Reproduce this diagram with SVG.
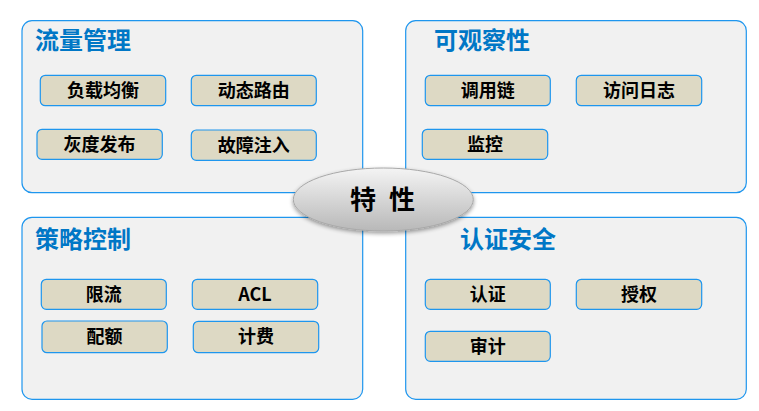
<svg xmlns="http://www.w3.org/2000/svg" width="759" height="411" viewBox="0 0 759 411">
<defs>
<style>
.panel{fill:#F1F1F1;stroke:#1E96EE;stroke-width:1.2}
.box{fill:#DDD9C4;stroke:#1E96EE;stroke-width:1.2}
.title{font-family:"Noto Sans CJK SC","Noto Sans",sans-serif;font-weight:bold;font-size:24px;fill:#0077C6}
.lbl{font-family:"Noto Sans CJK SC","Liberation Sans",sans-serif;font-weight:bold;font-size:18px;fill:#000;text-anchor:middle}
.core{font-family:"Noto Sans CJK SC",sans-serif;font-weight:bold;font-size:26px;fill:#000;text-anchor:middle}
</style>
<linearGradient id="eg" x1="0" y1="0" x2="0" y2="1">
<stop offset="0" stop-color="#F4F4F4"/>
<stop offset="0.5" stop-color="#D6D6D6"/>
<stop offset="1" stop-color="#B8B8B8"/>
</linearGradient>
<filter id="sh" x="-20%" y="-30%" width="140%" height="170%">
<feGaussianBlur in="SourceAlpha" stdDeviation="2"/>
<feOffset dx="0" dy="2" result="b"/>
<feComponentTransfer><feFuncA type="linear" slope="0.4"/></feComponentTransfer>
<feMerge><feMergeNode/><feMergeNode in="SourceGraphic"/></feMerge>
</filter>
</defs>
<rect width="759" height="411" fill="#FFFFFF"/>
<g id="panel-traffic">
<rect class="panel" x="22" y="20.7" width="340.7" height="172" rx="10"/>
<text class="title" x="35" y="48.5">流量管理</text>
<g id="n-lb"><rect class="box" x="40.3" y="75.3" width="125.4" height="30.4" rx="5"/><text class="lbl" x="103" y="96.8">负载均衡</text></g>
<g id="n-route"><rect class="box" x="191.3" y="75.3" width="125" height="30.4" rx="5"/><text class="lbl" x="253.8" y="96.8">动态路由</text></g>
<g id="n-gray"><rect class="box" x="37" y="129.3" width="125.3" height="30" rx="5"/><text class="lbl" x="99.6" y="150.8">灰度发布</text></g>
<g id="n-fault"><rect class="box" x="191.3" y="130" width="125" height="30.3" rx="5"/><text class="lbl" x="253.8" y="151.5">故障注入</text></g>
</g>
<g id="panel-observe">
<rect class="panel" x="405.7" y="20.7" width="340.6" height="172" rx="10"/>
<text class="title" x="434" y="48.5">可观察性</text>
<g id="n-trace"><rect class="box" x="425.3" y="75.3" width="125" height="30.4" rx="5"/><text class="lbl" x="487.8" y="96.8">调用链</text></g>
<g id="n-log"><rect class="box" x="576.3" y="75.3" width="125.4" height="30.4" rx="5"/><text class="lbl" x="639" y="96.8">访问日志</text></g>
<g id="n-mon"><rect class="box" x="422.3" y="129.3" width="125.4" height="30" rx="5"/><text class="lbl" x="485" y="150.8">监控</text></g>
</g>
<g id="panel-policy">
<rect class="panel" x="22" y="217.3" width="340.7" height="182" rx="10"/>
<text class="title" x="35" y="247.5">策略控制</text>
<g id="n-limit"><rect class="box" x="41.3" y="279.3" width="125" height="30" rx="5"/><text class="lbl" x="103.8" y="300.8">限流</text></g>
<g id="n-acl"><rect class="box" x="192.3" y="279.3" width="125.4" height="30" rx="5"/><text class="lbl" x="255" y="300.8" font-family="Liberation Sans">ACL</text></g>
<g id="n-quota"><rect class="box" x="42" y="321" width="125.3" height="31.7" rx="5"/><text class="lbl" x="104.6" y="343.3">配额</text></g>
<g id="n-bill"><rect class="box" x="193.3" y="321.3" width="125.4" height="31.4" rx="5"/><text class="lbl" x="256" y="343.3">计费</text></g>
</g>
<g id="panel-security">
<rect class="panel" x="405.7" y="217.3" width="340.6" height="182" rx="10"/>
<text class="title" x="460" y="247.5">认证安全</text>
<g id="n-authn"><rect class="box" x="425.3" y="279.3" width="125" height="30" rx="5"/><text class="lbl" x="487.8" y="300.8">认证</text></g>
<g id="n-authz"><rect class="box" x="576.3" y="279.3" width="125.4" height="30" rx="5"/><text class="lbl" x="639" y="300.8">授权</text></g>
<g id="n-audit"><rect class="box" x="425.3" y="331.3" width="125" height="30" rx="5"/><text class="lbl" x="487.8" y="352.8">审计</text></g>
</g>
<g id="connectors"></g>
<g id="core">
<ellipse cx="383.3" cy="199.5" rx="90" ry="31.5" fill="url(#eg)" stroke="#A8A8A8" stroke-width="1" filter="url(#sh)"/>
<text class="core" x="363 402" y="209">特性</text>
</g>
</svg>
